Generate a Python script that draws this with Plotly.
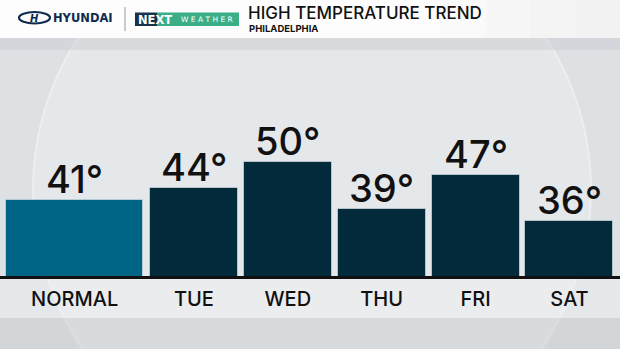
import plotly.graph_objects as go

# ---- data ----
categories = ["NORMAL", "TUE", "WED", "THU", "FRI", "SAT"]
temps = [41, 44, 50, 39, 47, 36]
title_text = "HIGH TEMPERATURE TREND"
subtitle_text = "PHILADELPHIA"

# ---- layout constants ----
W, H = 620, 349
slot_centers = [0.73, 2, 3, 4, 5, 6]
slot_widths = [1.46, 0.937, 0.937, 0.937, 0.937, 0.937]
bar_colors = ["#006487"] + ["#032a3b"] * 5
FONT = "Inter"


def px(x):
    return x / W


def py(y):
    return 1 - y / H


fig = go.Figure()
fig.add_trace(go.Bar(
    x=slot_centers, y=temps, width=slot_widths,
    marker=dict(color=bar_colors, line=dict(color="rgba(210,220,225,0.7)", width=1)),
    hoverinfo="skip",
))

shapes = []
# main background
shapes.append(dict(type="rect", xref="paper", yref="paper", x0=0, x1=1, y0=0, y1=1,
                   fillcolor="rgb(221,225,227)", line_width=0, layer="below"))
# big sphere
cx, cy, r = 312, 190, 279
shapes.append(dict(type="circle", xref="paper", yref="paper",
                   x0=px(cx - r), x1=px(cx + r), y0=py(cy + r), y1=py(cy - r),
                   fillcolor="rgb(229,232,234)", line=dict(color="rgb(236,238,239)", width=2),
                   layer="below"))
# label band
shapes.append(dict(type="rect", xref="paper", yref="paper", x0=0, x1=1, y0=py(318), y1=py(278),
                   fillcolor="rgba(240,242,243,0.45)", line_width=0, layer="below"))
# bottom darker band
shapes.append(dict(type="rect", xref="paper", yref="paper", x0=0, x1=1, y0=0, y1=py(318),
                   fillcolor="rgba(190,196,199,0.35)", line_width=0, layer="below"))
# header shadow band
shapes.append(dict(type="rect", xref="paper", yref="paper", x0=0, x1=1, y0=py(50), y1=py(38),
                   fillcolor="rgba(200,205,208,0.45)", line_width=0, layer="below"))
# header white
shapes.append(dict(type="rect", xref="paper", yref="paper", x0=0, x1=1, y0=py(38), y1=1,
                   fillcolor="rgb(253,253,253)", line_width=0, layer="below"))
for i, c in enumerate([250, 247, 244, 242]):
    shapes.append(dict(type="rect", xref="paper", yref="paper", x0=px(440 + i * 45), x1=1,
                       y0=py(38), y1=1, fillcolor=f"rgb({c},{c},{c})", line_width=0, layer="below"))
# hyundai ellipse
shapes.append(dict(type="circle", xref="paper", yref="paper", x0=px(19), x1=px(50),
                   y0=py(23.5), y1=py(12), line=dict(color="#0e2b4f", width=2.2),
                   fillcolor="rgba(0,0,0,0)", layer="above"))
# separator
shapes.append(dict(type="line", xref="paper", yref="paper", x0=px(125), x1=px(125),
                   y0=py(31), y1=py(7), line=dict(color="rgb(170,170,170)", width=1.2)))
# NEXT badge
shapes.append(dict(type="rect", xref="paper", yref="paper", x0=px(135), x1=px(157),
                   y0=py(26), y1=py(12.5), fillcolor="#17344a", line_width=0, layer="above"))
shapes.append(dict(type="rect", xref="paper", yref="paper", x0=px(157), x1=px(239),
                   y0=py(26), y1=py(12.5), fillcolor="#3aae86", line_width=0, layer="above"))


def ann(text, x, y, size, color, family=FONT, xanchor="left", weight=None):
    f = dict(family=family, size=size, color=color)
    if weight:
        f["weight"] = weight
    return dict(text=text, x=px(x), y=py(y), xref="paper", yref="paper", xanchor=xanchor,
                yanchor="middle", showarrow=False, font=f)


annotations = [
    ann("<b><i>H</i></b>", 34.5, 18, 10, "#0e2b4f", family="DejaVu Sans", xanchor="center"),
    ann("<b>HYUNDAI</b>", 51, 18, 11.5, "#0e2b4f", family="DejaVu Sans"),
    ann("<b>NEXT</b>", 136, 19.5, 11.5, "white", family="DejaVu Sans"),
    ann("W E A T H E R", 207, 19.5, 7.5, "white", family="DejaVu Sans", xanchor="center"),
    ann(title_text, 246, 12.5, 17, "#111111", weight=500),
    ann("<b>" + subtitle_text + "</b>", 247, 28, 9.5, "#111111"),
]

# value labels above each bar, placed through the data axes
for xc, t in zip(slot_centers, temps):
    annotations.append(dict(text=f"{t}°", x=xc, y=t, xref="x", yref="y", xanchor="center",
                            yanchor="bottom", yshift=-4, showarrow=False,
                            font=dict(family=FONT, size=38, color="#111111", weight=500)))

fig.update_layout(
    width=W, height=H, margin=dict(l=0, r=0, t=0, b=0),
    paper_bgcolor="rgb(221,225,227)", plot_bgcolor="rgba(0,0,0,0)",
    showlegend=False, shapes=shapes, annotations=annotations,
    xaxis=dict(range=[-0.065, 6.538], domain=[0, 1], tickvals=slot_centers, ticktext=categories,
               showgrid=False, zeroline=False, showline=True, linecolor="#111111", linewidth=3,
               ticks="", ticklabelstandoff=3,
               tickfont=dict(family=FONT, size=20, color="#111111", weight=500), fixedrange=True),
    yaxis=dict(range=[23, 88.5], domain=[py(276), 1], visible=False, fixedrange=True),
    bargap=0,
)

fig.write_html("out.html")
